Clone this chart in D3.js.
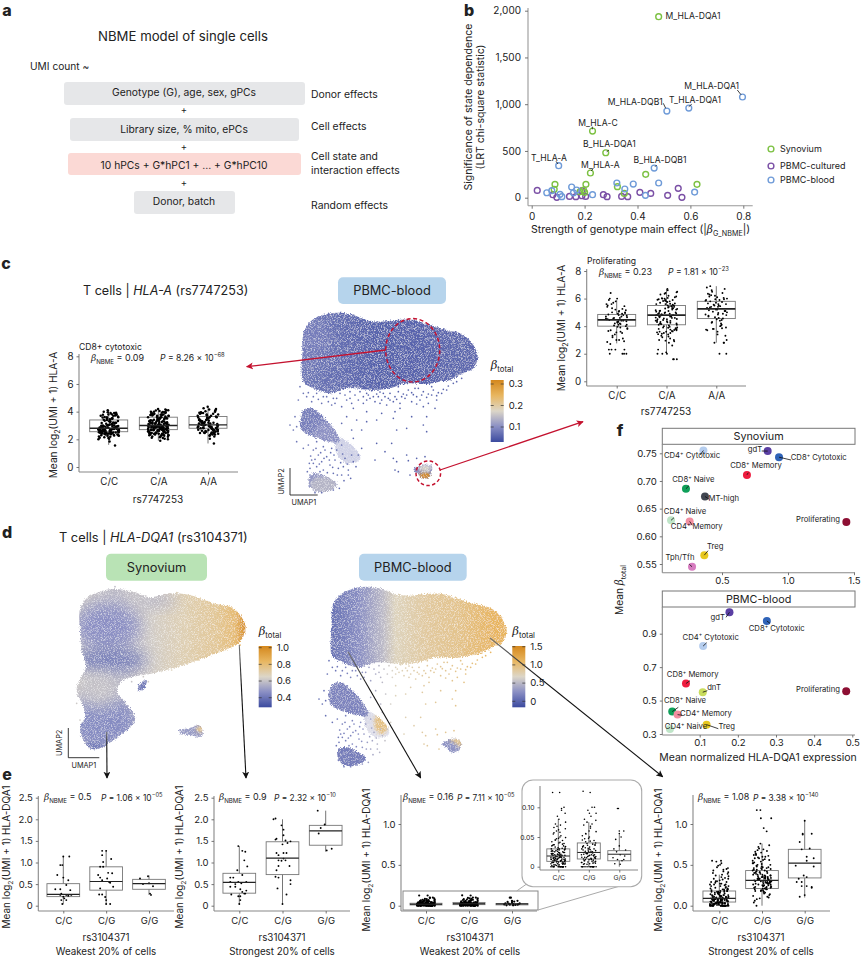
<!DOCTYPE html>
<html>
<head>
<meta charset="utf-8">
<script src="https://cdn.jsdelivr.net/npm/d3@7"></script>
<style>
  html, body { margin: 0; padding: 0; background: #fff; }
  svg { display: block; font-family: Inter, "Noto Sans", sans-serif; }
  text { fill: #222; }
</style>
</head>
<body>
<svg id="fig" width="861" height="960"></svg>
<script>
// ---- panel a text
const A_ROWS = ["Genotype (G), age, sex, gPCs", "Library size, % mito, ePCs", "10 hPCs + G*hPC1 + ... + G*hPC10", "Donor, batch"];
const A_EFFECTS = ["Donor effects", "Cell effects", "Cell state and", "interaction effects", "Random effects"];

// ---- panel b: [|beta|, LRT chi-square]
const B_SYN = [[.48,1936],[.23,713],[.28,481],[.222,264],[.431,250],[.625,143],[.088,143],[.085,90],[.205,143],[.196,82],[.183,64],[.2,57],[.324,118],[.35,46]];
const B_CULT = [[.021,78],[.08,32],[.095,4],[.143,14],[.167,11],[.19,21],[.204,14],[.19,75],[.271,32],[.285,11],[.34,14],[.363,11],[.409,57],[.45,46],[.514,25],[.554,100],[.568,4]];
const B_BLOOD = [[.797,1077],[.594,959],[.511,927],[.463,317],[.102,342],[.322,157],[.384,146],[.48,157],[.616,60],[.352,93],[.43,25],[.151,114],[.17,82],[.057,53],[.076,75],[.107,36],[.114,11],[.23,32],[.158,53]];
const B_SERIES = ["Synovium", "PBMC-cultured", "PBMC-blood"];
const B_XTICKS = [0, .2, .4, .6, .8];
const B_YTICKS = [0, 500, 1000, 1500, 2000];

// shared jitter offsets for the dense strips
const JIT = [-.82,.35,-.12,.91,-.55,.18,.67,-.93,.04,-.38,.76,-.24,.52,-.71,.29,.97,-.47,.11,-.86,.6,-.03,.43,-.63,.83,-.17,.22,-.98,.7,-.31,.08,.49,-.76,.88,-.42,.15,-.58,.94,-.09,.33,-.67,.56];

// ---- panel c, boxes are [q1, median, q3, low, high]
const C_CATS = ["C/C", "C/A", "A/A"];
const CL_BOXES = [[2.55,2.8,3.4,1.6,4.1],[2.7,3.0,3.6,1.9,4.2],[2.8,3.05,3.65,1.7,4.3]];
const CL_CC = [2.8,3.1,2.4,3.6,2.6,3.9,2.9,2.2,3.3,2.7,3.8,2.5,3.0,2.3,3.5,2.75,4.0,2.65,2.85,3.2,2.1,3.7,2.55,2.95,3.4,2.45,2.7,3.85,2.35,3.05,2.8,2.6,3.65,2.15,3.25,2.9,2.5,3.95,2.75,2.4,3.15,2.65,3.55,2.85,2.3,3.0,2.55,3.75,2.7,2.05,3.35,2.8,2.45,3.9,2.6,3.1,2.25,2.95,3.45,2.7,1.55,3.8,2.5,2.85,2.35,3.6,2.65,2.0,3.2,2.9,1.85,2.75,3.7,2.6,2.4,3.3,2.8,2.55,4.1,3.05,2.62,2.78,2.48,2.92,3.02,2.58,2.72,2.68,2.88,2.52,
  2.42,3.62,2.76,3.12,2.28,2.98,3.82,2.66,3.42,2.56,2.12,3.72,2.84,3.22,2.46,2.94,3.52,2.36,2.74,3.92,2.64,3.08,2.32,2.86,3.32,2.54,2.18,3.58,2.7,3.02,2.44,3.18,2.82,2.6,3.48,2.26,2.96,3.78,2.68,2.5];
const CL_CA = [3.0,2.4,3.7,2.8,3.2,2.2,3.9,2.6,3.4,2.9,4.1,2.5,3.1,2.7,3.6,2.3,3.8,2.85,3.3,2.05,4.2,2.65,2.95,3.5,2.45,3.05,2.75,3.95,2.35,3.25,2.55,3.75,2.9,4.0,2.15,3.15,2.6,3.45,2.8,3.85,2.25,3.35,2.7,3.65,2.5,3.0,1.9,4.15,2.85,3.1,2.4,3.55,2.95,2.6,3.2,2.3,3.7,2.75,4.05,3.05,2.55,3.4,2.1,3.9,2.65,3.3,2.8,3.6,2.45,3.15,2.9,3.8,2.35,3.0,2.7,3.5,2.2,4.1,2.6,3.25,2.85,3.45,2.5,3.75,2.95,2.0,3.35,2.75,3.65,3.1,2.4,3.85,2.8,3.2,2.55,4.0,2.9,3.05,2.65,3.55,2.3,3.95,2.7,3.3,2.45,3.1,2.85,3.6,2.98,2.72,3.12,2.62,2.88,3.22,
  2.52,3.42,2.78,3.72,2.32,3.02,3.92,2.68,3.28,2.48,2.92,3.58,2.18,3.82,2.82,3.18,2.58,3.48,2.38,2.96,4.08,2.74,3.38,2.28,3.68,2.86,3.08,2.42,3.52,2.66,3.98,2.12,3.24,2.94,3.78,2.56,3.14,2.84,3.44,2.36];
const CL_AA = [3.1,2.5,3.8,2.9,3.3,2.3,4.0,2.7,3.5,3.0,4.2,2.6,3.2,2.8,3.7,2.4,3.9,2.95,3.4,2.2,4.35,2.75,3.05,3.6,2.55,3.15,2.85,4.1,2.45,3.35,2.65,3.85,3.0,4.25,2.25,3.25,2.7,3.55,2.9,3.95,1.7,3.45,2.8,3.75,2.6,3.1,2.05,4.05,2.95,3.2,2.5,3.65,3.05,2.7,3.3,2.4,3.8,2.85,4.15,3.15,2.65,3.5,2.35,3.9,2.75,3.4,2.9,3.7,2.55,3.25,3.0,3.85,2.45,3.1,2.8,3.6,
  2.62,3.02,3.72,2.86,3.28,2.44,3.92,2.76,3.42,2.58,3.08,2.92,2.34,3.58,2.68,3.18,2.82,4.02,2.52,3.36];
const CR_BOXES = [[4.0,4.45,4.85,2.75,5.9],[4.1,4.8,5.5,2.05,6.7],[4.55,5.25,5.8,2.8,6.9]];
const CR_CC = [4.5,3.6,5.2,4.1,6.4,4.8,2.9,5.6,4.3,3.2,5.0,4.6,2.0,5.9,4.2,3.8,2.3,4.9,5.4,4.4,3.0,4.7,6.0,4.0,3.4,5.1,4.55,2.3,5.7,4.25,3.5,4.85,2.0,5.3,4.35,2.7,4.65,5.8,3.9,4.45,3.1,5.5,4.15,2.3,4.75,3.7,5.05,2.0,4.5,6.0,3.3,4.95,4.05,5.25,2.3,4.6,3.85,5.6,4.3,2.85,4.8,3.55,4.4,2.0,5.15,4.2,3.0,4.7,5.45,4.55,3.95,4.9,3.65,4.35,5.0,4.1];
const CR_CA = [4.8,3.5,5.9,4.2,6.3,5.1,3.0,5.6,4.5,2.0,6.1,4.0,5.3,3.8,4.9,6.5,3.3,5.5,4.3,1.6,5.8,4.7,3.6,5.0,6.0,2.8,4.4,5.4,3.9,6.7,4.6,2.3,5.2,4.85,3.4,5.7,4.1,6.4,3.1,4.95,5.55,2.0,4.25,5.85,3.7,4.75,6.2,1.6,5.05,4.35,3.2,5.65,4.55,2.6,5.95,3.95,5.25,4.15,6.05,3.55,4.8,2.1,5.45,4.65,3.85,6.35,4.05,5.15,2.9,4.45,5.75,3.65,4.9,6.15,3.45,5.35,4.2,1.6,5.6,4.7,3.0,5.9,4.5,3.75,5.0,6.45,4.3,3.25,5.5,4.8,2.0,6.0,4.6,3.5,5.2,4.1,5.8,3.9,4.85,6.6,4.4,5.3,3.6,4.75,5.1,3.8,4.95,5.4,
  4.62,3.72,5.82,4.28,5.42,3.42,4.92,6.02,3.88,5.12,4.52,2.95,5.62,4.72,3.62,5.92,4.38,5.28,3.78,4.18];
const CR_AA = [5.3,4.0,6.2,4.8,6.9,5.6,2.8,5.9,4.5,6.5,5.1,3.8,5.75,4.7,2.0,6.0,5.4,3.6,6.8,4.9,5.2,4.2,6.3,3.3,5.5,4.6,5.85,2.8,5.05,6.1,4.1,5.65,3.9,6.6,4.85,5.35,3.0,5.95,4.4,5.15,6.4,3.7,5.45,4.65,2.0,5.8,4.95,6.05,3.75,5.25,4.3,6.7,5.55,3.85,4.75,5.9,5.0,6.25,3.4,5.3,4.55,5.7,4.05,6.15,5.1,2.8,5.5,4.85,5.95,3.8,5.2,4.45,6.35,5.6,4.25,5.4];

// ---- panel d legend ticks
const LEG_C = [.1, .2, .3];
const LEG_SYN = [.4, .6, .8, 1.0];
const LEG_BLOOD = [0, .5, 1.0, 1.5];

// ---- UMAP outlines, in UMAP units
const BLOOD_BODY = [[.68,5],[.75,5.35],[1,5.62],[1.4,5.78],[1.8,5.82],[2.2,5.75],[2.6,5.6],[3,5.55],[3.5,5.6],[4,5.6],[4.5,5.45],[5,5.3],[5.5,5.15],[5.8,4.85],[5.93,4.5],[5.8,4.15],[5.5,4],[5.1,3.8],[4.8,3.75],[4.4,3.68],[3.8,3.7],[3.3,3.55],[2.8,3.5],[2.2,3.55],[2,3.55],[1.5,3.4],[1,3.55],[.7,3.75],[.65,4.2],[.68,4.6]];
const BLOOD_LOBE_A = [[.6,2.6],[.72,2.9],[.95,2.95],[1.3,2.7],[1.7,2.2],[1.75,1.95],[1.5,1.95],[1,2.1],[.65,2.3]];
const BLOOD_LOBE_B = [[.85,.8],[1,1],[1.4,.9],[1.7,.65],[1.4,.45],[1,.5]];
const BLOOD_LOBE_C = [[1.7,2.1],[2.3,1.7],[2.4,1.4],[2,1.3],[1.7,1.6]];
const BLOOD_SMALL = [[4,1.1],[4.25,1.25],[4.55,1.2],[4.5,.9],[4.3,.85],[4.1,1]];
const BLOOD_SPARSE = [[2.4,3.45],[2.6,3.4],[2.75,3.48],[2.9,3.38],[3,3.44],[3.15,3.3],[3.3,3.4],[3.45,3.3],[3.55,3.45],[3.7,3.38],[3.85,3.5],[4,3.36],[4.15,3.55],[4.3,3.45],[4.45,3.38],[4.6,3.5],[4.75,3.42],[4.9,3.52],[5.05,3.62],[5.2,3.7],
  [.6,3.6],[.7,3.4],[.55,3.2],[.8,3.3],[.95,3.15],[1.1,3.4],[1.25,3.1],[1.4,3.3],[1.55,3.05],[1.7,3.25],[1.85,3],[2,3.2],[2.1,3.45],[2.2,2.95],[2.35,3.2],[2.5,3.1],[2.7,3.25],[2.85,3.15],[3.05,3.2],[3.2,3.05],[3.4,3.15],[3.6,3.1],[3.75,3.25],[3.95,3.15],[4.2,3.2],[4.45,3.1],[4.7,3.2],
  [2.5,3.3],[2.65,3.35],[2.8,3.3],[2.95,3.3],[3.1,3.4],[3.25,3.25],[3.5,3.22],[3.65,3.3],[3.8,3.35],[3.95,3.42],[4.1,3.3],[4.25,3.35],[4.4,3.28],[4.55,3.35],[4.7,3.33],[4.85,3.4],[5,3.5],[2.25,3.35],[2.1,3.25],[1.95,3.35],[1.8,3.4],[1.6,3.25],[1.45,3.15],[1.3,3.3],[1.15,3.22],[1,3.3],[.85,3.42],[3.55,3.6],[4.05,3.55],[4.55,3.6],[5.3,3.75],[5.45,3.85],[2.6,3.2],[3,3.1],[3.3,3.2],[4.1,3.08],[2.15,3.1],[1.65,3.1],
  [3.45,2.85],[3.6,2.95],[3.95,2.7],[4.3,3.0],[4.4,2.7],[4.65,2.95],[4.3,2.45],[4.4,2.25],[3.4,2.65],[3.8,2.35],[3.5,2.3],[2.9,2.6],[3.05,2.8],[2.6,2.85],[2.3,2.6],[2,2.7],[1.85,2.5],[2.45,2.3],[2.15,2.3],[2.6,2.55],
  [.45,2.7],[.5,2.4],[.5,1.95],[.85,1.85],[.7,1.75],[1.1,1.95],[1.3,1.8],[1.55,1.75],[1.85,1.85],[2.2,2.05],[.4,2.3],[.3,2.45],
  [1,1.7],[1.15,1.55],[.95,1.4],[1.25,1.35],[1.4,1.5],[1.1,1.2],[.9,1.15],[1.3,1.1],[1.5,1.25],[1.65,1.4],[1.75,1.15],[1.6,1],[1.9,1.2],[2.05,1.1],[2.2,1.35],[2.35,1.55],[1.85,.95],[.82,1.05],[.9,.95],[1,1.3],[1.2,1.05],[1.35,1.7],[1.7,1.7],[2.15,1.55],[2.05,.95],[1.6,.5],
  [.88,1.3],[.92,1.52],[1.05,1.42],[1.18,1.28],[1.32,1.45],[1.48,1.4],[1.58,1.18],[1.42,1.02],[1.72,.95],[1.82,1.32],[1.95,1.45],[2.02,1.28],[1.88,1.58],[1.62,1.55],[1.52,1.62],[1.22,1.62],[1.08,1.75],[2.28,1.2],[2.12,.85],[1.92,.78],[1.78,.55],[1.25,.42],[1.05,.42],[.88,.62],
  [2.85,1.4],[3.4,1.45],[3.5,1.35],[3.8,1.55],[3.85,1.38],[4.1,1.45],[2.45,1.75],[3.45,1.1],[3.55,1.05],[3.9,.95],[4.35,1.5],[3.15,1.65],[2.9,1.9],[3.35,1.9]];
const SYN_BODY = [[2.4,5],[2.6,5.35],[3,5.55],[3.4,5.63],[4,5.55],[4.5,5.38],[5.1,5.5],[5.7,5.45],[6.4,5.2],[7,5.05],[7.3,4.7],[7.37,4.45],[7.2,4.05],[6.5,3.7],[5.8,3.45],[5.2,3.25],[4.6,3.1],[4,3],[3.7,2.9],[3.5,2.6],[3.7,2.3],[4,1.9],[4.05,1.7],[3.8,1.4],[3.4,1.1],[3,.85],[2.7,.85],[2.5,1.1],[2.4,1.45],[2.55,1.8],[2.5,2.1],[2.3,2.6],[2.5,3.1],[2.58,3.3],[2.45,3.8],[2.4,4.4]];
const SYN_SMALL = [[5.35,1.4],[5.7,1.45],[5.95,1.55],[6.07,1.4],[6.05,1.2],[5.7,1.25],[5.45,1.28]];
const SYN_BUD = [[4.15,2.75],[4.4,2.9],[4.3,2.6],[4.15,2.6]];
const SYN_SPARSE = [[4.3,3],[4.45,2.85],[3.95,2.85],[5.15,3.2],[2.3,2.2],[2.4,1.7],[6.9,3.9],[7.2,3.95],[3.45,5.7],[5.3,5.52]];

// beta along UMAP1 for each map
const C_STOPS_U = [.65, 3, 5.9];
const C_STOPS_BETA = [.078, .055, .062];
const DB_STOPS_U = [.65, 1.5, 2.2, 2.6, 3.5, 4.5, 5.6];
const DB_STOPS_BETA = [.08, .25, .5, .72, .84, .92, 1.1];
const DS_STOPS_U = [2.4, 3.5, 4.5, 5.5, 6.5, 7.05, 7.4];
const DS_STOPS_BETA = [.62, .58, .63, .69, .74, .8, 1.0];
const DS_PATCHES = [[3.2,4.5,1,.7,.47],[3.3,3.5,1.1,.35,.42],[3.1,1.6,1.1,.9,.46],[3,2.6,.6,.5,.6],[4.7,5.3,.6,.2,.56],[2.8,.9,.3,.15,.42]];
const DB_PATCHES = [[2.18,1.75,.22,.35,.95],[1.2,.7,.6,.4,.15],[1.1,2.4,.6,.5,.18],[4.4,1.15,.2,.15,.9],[4.2,1,.25,.2,.28]];
const C_PATCHES = [[4.35,.93,.18,.1,.31],[4.35,1.15,.2,.1,.17],[1.4,2.2,.4,.35,.105],[1.3,.65,.4,.25,.14],[.8,5,.7,.7,.085]];

// ---- panel e
const E_CATS = ["C/C", "C/G", "G/G"];
const E1_BOXES = [[.21,.26,.51,.03,1.15],[.36,.56,.9,.03,1.27],[.38,.51,.61,.25,.7]];
const E1_CC = [[0,1.14],[6,1.14],[-3,.94],[-1,.94],[-6,.71],[0,.65],[5,.59],[-8,.38],[-3,.38],[3,.48],[7,.36],[-2,.28],[3,.25],[5,.23],[8,.25],[-3,.25],[0,.21],[-2,.13],[3,.13],[-1,.04],[1,.17]];
const E1_CG = [[-4,1.27],[0,1.27],[-4,1.17],[5,1.08],[-3,1.01],[-8,.71],[-6,.65],[2,.76],[6,.75],[-4,.59],[1,.63],[-6,.4],[4,.53],[7,.44],[-1,.2],[-7,.26],[-4,.26],[0,.13],[0,.04],[4,.04],[-6,.9],[-3,.9],[3,.55]];
const E1_GG = [[-9,.63],[-1,.68],[4,.45],[0,.52],[1,.28],[2,.25],[-6,.5]];
const E2_BOXES = [[.29,.54,.75,.03,1.38],[.72,1.1,1.48,.04,2.0],[1.4,1.73,1.86,1.25,2.2]];
const E2_CC = [[-1,1.38],[3,1.27],[6,1.25],[5,1.05],[8,.91],[-2,.82],[-6,.65],[3,.71],[-9,.65],[-9,.55],[-4,.5],[-1,.55],[-9,.44],[-4,.44],[2,.52],[7,.55],[1,.38],[7,.35],[5,.28],[-8,.26],[-1,.22],[1,.22],[6,.28],[1,.13],[0,.04],[3,.32]];
const E2_CG = [[-9,2],[-7,2.02],[-1,1.86],[1,1.76],[1,1.63],[-6,1.55],[-7,1.53],[3,1.51],[8,1.49],[5,1.45],[0,1.42],[-6,1.22],[1,1.22],[4,1.22],[-4,1.17],[1,1.09],[-4,1.05],[-1,1.04],[3,1.05],[7,.92],[-4,.92],[-6,.82],[-7,.67],[-4,.65],[8,.59],[8,.5],[-5,.4],[4,.26],[0,.04]];
const E2_GG = [[-8,2.2],[-1,1.88],[-5,1.8],[-7,1.67],[1,1.28],[6,1.32]];
const E3_BOXES = [[.009,.018,.03,0,.08],[.013,.024,.04,0,.075],[.01,.021,.027,0,.055]];
const E3_CC = [0,.018,.005,.03,.012,.125,0,.022,.008,.045,.015,.06,0,.026,.01,.075,.02,.003,.035,0,.014,.095,.007,.028,.017,.05,0,.024,.011,.04,.019,.125,.004,.033,0,.066,.013,.021,.009,.055,0,.027,.016,.085,.006,.037,.023,0,.012,.048,.018,.1,.002,.031,.01,.07,0,.025,.015,.042,.008,.02,.098,0,.029,.013,.058,.005,.035,.017,.08,0,.022,.011,.045,.019,.003,.064,.026,0,.014,.038,.007,.052,.021,.09,.01,.016,0,.03,.024,.072,.012,.047,.006,.019,0,.034,.015,.028,
  .02,.004,.032,.011,0,.024,.009,.041,.016,.006,.027,0,.013,.036,.019,.003,.023,.057,.01,.029,0,.015,.044,.007,.021,.012,.033,0,.018,.005,.026,.062,.014,.039,.008,0,.022,.017,.049,.011,.03,.002,.025,0,.016,.037,.009,.068,.02,.013];
const E3_CG = [0,.024,.008,.04,.016,.125,0,.03,.012,.055,.02,.075,0,.035,.014,.09,.026,.005,.045,0,.018,.1,.01,.037,.022,.065,0,.03,.015,.05,.025,.127,.006,.042,0,.08,.017,.028,.012,.07,0,.033,.02,.095,.009,.047,.029,0,.016,.06,.023,.1,.004,.038,.013,.085,0,.032,.019,.052,.011,.026,.072,0,.036,.017,.068,.007,.044,.022,.09,0,.028,.014,.056,.024,.005,.078,.031,0,
  .021,.006,.034,.013,0,.027,.01,.043,.018,.007,.03,0,.015,.039,.023,.004,.026,.059,.012,.033,0,.019,.048,.009,.024,.016,.036,0,.02,.008];
const E3_GG = [[-2,.098],[-1,.098],[0,.06],[5,.06],[0,.056],[-4,.046],[2,.05],[7,.028],[-6,.03],[-3,.025],[1,.02],[6,.018],[-7,.015],[-2,.012],[3,.01],[-5,.005],[1,.004],[5,.012],[0,.035]];
const E4_BOXES = [[.045,.09,.18,0,.38],[.21,.31,.43,0,.76],[.34,.52,.69,.1,1.05]];
const E4_CC = [0,.1,.03,.2,.06,.55,0,.14,.04,.3,.08,.47,0,.12,.02,.36,.16,.05,.24,0,.09,.42,.01,.18,.07,.52,0,.11,.03,.27,.13,.55,.06,.22,0,.33,.1,.15,.04,.4,0,.17,.08,.49,.02,.26,.12,0,.05,.31,.09,.45,.01,.19,.07,.38,0,.14,.11,.29,.03,.16,.44,0,.2,.06,.35,.02,.23,.1,.5,0,.13,.05,.28,.08,.01,.41,.17,0,.07,.25,.04,.32,.15,.46,.02,.11,0,.21,.09,.37,.06,.3,.03,.12,0,.24,.08,.18,.05,.34,.01,.13,.43,0,.16,.07,.26,.1,.54,.04,.2,.02,.39,.09,
  .06,.02,.13,.04,0,.1,.07,.19,.03,.15,.05,.09,0,.22,.01,.12,.08,.29,.04,.17,0,.06,.11,.02,.24,.09,.03,.14,0,.07,.18,.05,.27,.01,.1,.04,.16,0,.08,.21,.03,.12,.06,.33,.02,.09,0,.15,.05,.2,.07,.01,.11,.04,.26,0,.13,.03,.08,.17];
const E4_CG = [.31,.6,.18,.45,.08,.95,.25,.52,.35,.72,.13,.41,.28,.66,.21,1.07,.38,.56,.04,.33,.48,.22,.62,.3,.76,.15,.43,.27,.58,.36,.91,.2,.5,.32,.69,0,.24,.46,.34,.64,.11,.4,.29,.54,.37,1.17,.17,.47,.26,.6,.33,.74,.09,.42,.23,.57,.3,.68,.19,.44,.35,.51,.28,.63,.14,.39,.25,.55,.32,.7,.21,.46,.06,.37,.59,.27,.49,.34,.65,.16,.41,.29,.53,.36,1.07,.22,.48,.31,.61,.12,.38,.26,.56,.33,.67,.18,.43,.3,.5,.24,.62,.35,.45,.2,.39,.28,1.17,.34,.52,.1,.32,.47,.23,.58,
  .29,.36,.24,.42,.31,.19,.33,.27,.4,.22,.35,.3,.26,.44,.17,.32,.38,.25,.34,.28,.41,.2,.3,.37,.23,.33,.29,.46,.27,.35];
const E4_GG = [[0,1.04],[-2,.87],[-2,.88],[7,.88],[-5,.78],[5,.7],[-3,.69],[2,.6],[9,.58],[2,.55],[-9,.49],[9,.48],[-1,.37],[2,.35],[-3,.29],[-8,.29],[7,.23],[-3,.24],[2,.24],[7,.22],[-5,.11],[0,.13],[-6,.33]];

// ---- panel f
const F_COLORS = {"CD4+ Cytotoxic":"#b5cdee", "gdT":"#5a3fa3", "CD8+ Cytotoxic":"#2f63b8", "CD8+ Memory":"#ee1c3f", "CD8+ Naive":"#0e9f59", "MT-high":"#404650", "CD4+ Naive":"#bfe5c8", "CD4+ Memory":"#f28ea0", "Proliferating":"#8d0f33", "Treg":"#e7c71f", "Tph/Tfh":"#d77cc0", "dnT":"#c9dc5e"};
const F_SYN_NAMES = ["CD4+ Cytotoxic","gdT","CD8+ Cytotoxic","CD8+ Memory","CD8+ Naive","MT-high","CD4+ Naive","CD4+ Memory","Proliferating","Treg","Tph/Tfh"];
const F_SYN_X = [.359,.846,.932,.689,.227,.371,.114,.255,1.442,.366,.273];
const F_SYN_Y = [.755,.754,.743,.711,.686,.672,.629,.627,.626,.566,.545];
const F_BLOOD_NAMES = ["gdT","CD8+ Cytotoxic","CD4+ Cytotoxic","CD8+ Memory","dnT","Proliferating","CD8+ Naive","CD4+ Memory","Treg","CD4+ Naive"];
const F_BLOOD_X = [.178,.276,.109,.064,.108,.484,.028,.042,.118,.022];
const F_BLOOD_Y = [1.028,.976,.826,.602,.55,.556,.434,.416,.356,.33];

// ---- layout, label placement in page pixels
const B_LABELS = [
  ["M_HLA-DQA1",693,15.7,null],
  ["M_HLA-DQA1",711.7,85.7,[737.3,90,741,94.7]],
  ["T_HLA-DQA1",695,100,[691.7,104.3,688.7,106.7]],
  ["M_HLA-DQB1",635.3,102.3,[663.3,103.3,665.7,108.3]],
  ["M_HLA-C",598,123,[592.3,126.7,592.3,129.3]],
  ["B_HLA-DQA1",609.3,144.3,[609,150,606.7,151.7]],
  ["T_HLA-A",549,158,[556,161.3,558,164]],
  ["M_HLA-A",600.3,165,[593.3,168.3,591.3,171]],
  ["B_HLA-DQB1",660,159.7,[656.7,165,655,166.7]]
];
const F_SYN_LABELS = [[692,458.3,700,455],[755,451.7,761.7,451],[818.7,460.3,791,460],[756,468.3,748.3,472.7],[693.3,482.3,689,485.7],[723.7,500.7,709.3,499.3],[685,514,674,517.7],[696.7,529,692.3,525.3],[818,522.3,null,null],[715.3,549,708,550.7],[680,560,689.3,564.3]];
const F_BLOOD_LABELS = [[717.7,620.3,726,617.3],[776.7,631,770,623.3],[710.7,639.7,706.7,642.7],[692.7,677,690,680.7],[714,690,707.3,690.7],[818,692,null,null],[685,703,678.3,707.3],[706,716,682,715.3],[726.7,729.3,718.3,728.7],[686,729.3,null,null]];

const svg = d3.select("#fig");
const defs = svg.append("defs");

function txt(g, x, y, s, size, anchor, extra) {
    const t = g.append("text").attr("x",x).attr("y",y).attr("dy","0.35em")
        .attr("font-size",size).attr("text-anchor",anchor||"start").text(s);
    if (extra) Object.keys(extra).forEach(k => t.attr(k,extra[k]));
    return t;
}

// parts = strings or {t, it, sub, sup, serif}
function rich(g, x, y, parts, size, anchor, rot) {
    const holder = g.append("g").attr("transform",`translate(${x},${y})` + (rot ? ` rotate(${rot})` : ""));
    const t = holder.append("text").attr("dy","0.35em").attr("font-size",size).attr("text-anchor",anchor||"start");
    let prev = 0;
    parts.forEach(p0 => {
        const p = typeof p0 === "string" ? {t:p0} : p0;
        const shift = p.sub ? .3*size : p.sup ? -.42*size : 0;
        const sp = t.append("tspan").attr("dy",shift-prev).attr("font-size",(p.sub||p.sup) ? size*.68 : size).text(p.t);
        sp.attr("xml:space","preserve").style("white-space","pre");
        if (p.it) sp.attr("font-style","italic");
        if (p.serif) sp.attr("font-family","'DejaVu Serif', 'Liberation Serif', serif");
        prev = shift;
    });
    return t;
}

function arrowMarker(id, color) {
    defs.append("marker").attr("id",id).attr("viewBox","0 0 10 10").attr("refX",9).attr("refY",5)
        .attr("markerWidth",7).attr("markerHeight",7).attr("markerUnits","userSpaceOnUse").attr("orient","auto")
        .append("path").attr("d","M0,0L10,5L0,10L2.5,5Z").attr("fill",color);
}
arrowMarker("arrRed","#c4122f");
arrowMarker("arrBlack","#111");

// grainy cell-cloud look for the UMAPs
const grain = defs.append("filter").attr("id","grain").attr("x","-5%").attr("y","-5%").attr("width","110%").attr("height","110%");
grain.append("feTurbulence").attr("type","fractalNoise").attr("baseFrequency","1.3").attr("numOctaves","1").attr("seed","4").attr("result","n");
grain.append("feDisplacementMap").attr("in","SourceGraphic").attr("in2","n").attr("scale","5").attr("xChannelSelector","R").attr("yChannelSelector","G").attr("result","d");
grain.append("feColorMatrix").attr("in","n").attr("type","matrix").attr("values","0 0 0 0 1  0 0 0 0 1  0 0 0 0 1  0 0 0 1.8 -.85").attr("result","w");
grain.append("feComposite").attr("in","w").attr("in2","d").attr("operator","in").attr("result","w2");
const gm = grain.append("feMerge");
gm.append("feMergeNode").attr("in","d");
gm.append("feMergeNode").attr("in","w2");
defs.append("filter").attr("id","soft").attr("x","-60%").attr("y","-60%").attr("width","220%").attr("height","220%")
    .append("feGaussianBlur").attr("stdDeviation","8");
defs.append("filter").attr("id","softS").attr("x","-50%").attr("y","-50%").attr("width","200%").attr("height","200%")
    .append("feGaussianBlur").attr("stdDeviation","1.5");

const PALETTE = ["#3b4a9f","#8a8fc4","#dcd6c8","#e8b660","#d4871c"];
function paletteScale(lo, hi) {
    return d3.scaleLinear().domain(d3.range(5).map(i => lo + (hi-lo)*i/4)).range(PALETTE);
}

// ================ a ================
const gA = svg.append("g");
[["a",7,10],["b",469,10],["c",6,263],["d",7,532],["e",7,774],["f",620,430.7]].forEach(d =>
    txt(gA,d[1],d[2],d[0],16,"middle",{"font-weight":800,"fill":"#000"}));
txt(gA,183,36,"NBME model of single cells",13.2,"middle");
txt(gA,30,66,"UMI count ~",10.2);
[[64,82,241,23,"#e6e7e9",92],[70,118,229,23,"#e6e7e9",129],[68,153,233,22,"#fbd9d5",165],[134,191,101,23,"#e6e7e9",201]].forEach((r,i) => {
    gA.append("rect").attr("x",r[0]).attr("y",r[1]).attr("width",r[2]).attr("height",r[3]).attr("rx",3).attr("fill",r[4]);
    txt(gA,184,r[5],A_ROWS[i],10.3,"middle");
});
[110,147,183].forEach(y => txt(gA,184,y,"+",9.5,"middle"));
[94.5,126,156.5,170,205].forEach((y,i) => txt(gA,311,y,A_EFFECTS[i],10.4));

// ================ b ================
const gB = svg.append("g");
const bx = d3.scaleLinear().domain([0,.8]).range([531.7,743.3]);
const by = d3.scaleLinear().domain([0,2000]).range([197.7,10.7]);
const bColor = d3.scaleOrdinal().domain(B_SERIES).range(["#7cc142","#7a4fa5","#6f9bd8"]);
function styleAxis(ax, size) {
    ax.select(".domain").remove();
    ax.selectAll(".tick line").attr("stroke","#666").attr("stroke-width",.9);
    ax.selectAll(".tick text").attr("font-size",size).attr("font-family","Inter, 'Noto Sans', sans-serif").attr("fill","#222");
}
function axisLine(g, x1, y1, x2, y2, color) {
    g.append("line").attr("x1",x1).attr("y1",y1).attr("x2",x2).attr("y2",y2).attr("stroke",color||"#999").attr("stroke-width",1.1);
}
axisLine(gB,528,8,528,205.7);
axisLine(gB,528,205.7,752.7,205.7);
styleAxis(gB.append("g").attr("transform","translate(528,0)").call(d3.axisLeft(by).tickValues(B_YTICKS).tickSize(3).tickPadding(4).tickFormat(d3.format(","))),10);
styleAxis(gB.append("g").attr("transform","translate(0,205.7)").call(d3.axisBottom(bx).tickValues(B_XTICKS).tickSize(3).tickPadding(4).tickFormat(d => d===0 ? "0" : d3.format(".1f")(d))),10);
[[B_CULT,"PBMC-cultured"],[B_SYN,"Synovium"],[B_BLOOD,"PBMC-blood"]].forEach(s => {
    gB.selectAll(null).data(s[0]).enter().append("circle")
        .attr("cx",d => bx(d[0])).attr("cy",d => by(d[1])).attr("r",2.9)
        .attr("fill","none").attr("stroke",bColor(s[1])).attr("stroke-width",1.4);
});
B_LABELS.forEach(l => {
    txt(gB,l[1],l[2],l[0],8.6,"middle",{"letter-spacing":".05"});
    if (l[3]) gB.append("line").attr("x1",l[3][0]).attr("y1",l[3][1]).attr("x2",l[3][2]).attr("y2",l[3][3]).attr("stroke","#111").attr("stroke-width",.8);
});
rich(gB,472,107,["Significance of state dependence"],10.5,"middle",-90);
rich(gB,484,107,["(LRT chi-square statistic)"],10.5,"middle",-90);
rich(gB,640.5,233,["Strength of genotype main effect (|",{t:"β",it:1,serif:1},{t:"G_NBME",sub:1},"|)"],10.6,"middle");
B_SERIES.forEach((s,i) => {
    const y = [149,166,180][i];
    gB.append("circle").attr("cx",771).attr("cy",y).attr("r",2.9).attr("fill","none").attr("stroke",bColor(s)).attr("stroke-width",1.4);
    txt(gB,780,y,s,9);
});

// ================ box plots ================
function beta(sub) { return [{t:"β",it:1,serif:1},{t:sub,sub:1}]; }
function pval(mant, exp) { return [{t:"P",it:1}," = "+mant+" × 10",{t:exp,sup:1}]; }
const BETA_NBME = "NBME";

function boxPlot(p) {
    const g = svg.append("g");
    const x = d3.scalePoint().domain(p.cats).range(p.catX);
    const y = d3.scaleLinear().domain(p.ydom).range(p.yrange);
    axisLine(g,p.x0,p.top,p.x0,p.bottom,"#888");
    axisLine(g,p.x0,p.bottom,p.xEnd,p.bottom,"#888");
    styleAxis(g.append("g").attr("transform",`translate(${p.x0},0)`).call(d3.axisLeft(y).tickValues(p.yticks).tickSize(2.5).tickPadding(3).tickFormat(p.fmt)),p.tickSize);
    styleAxis(g.append("g").attr("transform",`translate(0,${p.bottom})`).call(d3.axisBottom(x).tickSize(p.hideXTick ? 0 : 2.5).tickPadding(p.xPad || 4)),p.catSize || p.tickSize);
    p.cats.forEach((c,i) => {
        const b = p.boxes[i], cx = x(c), w = p.boxW;
        g.append("line").attr("x1",cx).attr("x2",cx).attr("y1",y(b[3])).attr("y2",y(b[4])).attr("stroke","#666").attr("stroke-width",.9);
        g.append("rect").attr("x",cx-w/2).attr("width",w).attr("y",y(b[2])).attr("height",y(b[0])-y(b[2]))
            .attr("fill",p.boxFill||"#fff").attr("stroke","#777").attr("stroke-width",.9);
        const pts = p.points[i].map((v,k) => Array.isArray(v) ? {dx:v[0]*(p.pairScale||1), y:v[1]} : {dx:JIT[k%JIT.length]*p.jit, y:v});
        g.selectAll(null).data(pts).enter().append("circle")
            .attr("cx",d => cx+d.dx).attr("cy",d => y(d.y)).attr("r",p.r).attr("fill","#000");
        g.append("line").attr("x1",cx-w/2).attr("x2",cx+w/2).attr("y1",y(b[1])).attr("y2",y(b[1])).attr("stroke","#222").attr("stroke-width",p.medW||1.3);
    });
    return g;
}
const log2Label = gene => ["Mean log",{t:"2",sub:1},"(UMI + 1) "+gene];

// c left
const gCL = boxPlot({cats:C_CATS,catX:[108.7,208],ydom:[0,8],yrange:[467,356.3],x0:79,xEnd:238,top:354,bottom:472,yticks:[0,2,4,6,8],fmt:d3.format("d"),tickSize:9.8,
    boxes:CL_BOXES,points:[CL_CC,CL_CA,CL_AA],boxW:38,jit:10.5,r:1.25});
txt(gCL,79,346.5,"CD8+ cytotoxic",8.6);
rich(gCL,91,361,[...beta(BETA_NBME)," = 0.09"],9);
rich(gCL,160,361,pval("8.26","−68"),8.6);
rich(gCL,57,415,log2Label("HLA-A"),10.2,"middle",-90);
txt(gCL,158,499,"rs7747253",10,"middle");
txt(gCL,83,290.7,"T cells | ",12.6,"start").call(t => {
    t.append("tspan").attr("font-style","italic").text("HLA-A");
    t.append("tspan").text(" (rs7747253)");
});

// c right
const gCR = boxPlot({cats:C_CATS,catX:[616.7,716.3],ydom:[0,8],yrange:[381.3,271],x0:586.7,xEnd:746,top:269,bottom:386,yticks:[0,2,4,6,8],fmt:d3.format("d"),tickSize:9.8,
    boxes:CR_BOXES,points:[CR_CC,CR_CA,CR_AA],boxW:38,jit:11,r:.95,medW:1.8});
txt(gCR,587,261,"Proliferating",8.6);
rich(gCR,599,275,[...beta(BETA_NBME)," = 0.23"],9);
rich(gCR,668,275,pval("1.81","−23"),8.6);
rich(gCR,565,328,log2Label("HLA-A"),10.2,"middle",-90);
txt(gCR,666,411,"rs7747253",10,"middle");

// e
const EY_TICKS = [0,.5,1,1.5,2,2.5];
const eFmt = d => d===0 ? "0" : d3.format(".1f")(d);
function eTitles(g, x0, cx, cy, betaX, pX, val, mant, exp, yl, cap) {
    rich(g,betaX,800,[...beta(BETA_NBME)," = "+val],9);
    rich(g,pX,800.5,pval(mant,exp),8.4);
    rich(g,yl,cy,log2Label("HLA-DQA1"),10,"middle",-90);
    txt(g,cx,937.7,"rs3104371",9.8,"middle");
    txt(g,cx,952,cap,9.8,"middle");
}
const gE1 = boxPlot({cats:E_CATS,catX:[63.3,149],ydom:[0,2.5],yrange:[905.7,797.7],x0:38.3,xEnd:174,top:796,bottom:911,yticks:EY_TICKS,fmt:eFmt,tickSize:9.5,
    boxes:E1_BOXES,points:[E1_CC,E1_CG,E1_GG],boxW:32.7,r:.95,medW:1.2});
eTitles(gE1,38,106,857,44,101,"0.5","1.06","−05",10,"Weakest 20% of cells");
const gE2 = boxPlot({cats:E_CATS,catX:[239.3,325.7],ydom:[0,2.5],yrange:[905.7,797.7],x0:214,xEnd:350,top:796,bottom:911,yticks:EY_TICKS,fmt:eFmt,tickSize:9.5,
    boxes:E2_BOXES,points:[E2_CC,E2_CG,E2_GG],boxW:32.7,r:.95,medW:1.2});
eTitles(gE2,214,282,857,219,274,"0.9","2.32","−10",183,"Strongest 20% of cells");
const gE3 = boxPlot({cats:E_CATS,catX:[426,512],ydom:[0,1],yrange:[905.7,824],x0:401,xEnd:537,top:795,bottom:911,yticks:[0,.5,1],fmt:eFmt,tickSize:9.5,
    boxes:E3_BOXES,points:[E3_CC,E3_CG,E3_GG],boxW:32,jit:9,pairScale:1.1,r:1.1,medW:1.2});
eTitles(gE3,401,470,860,403,457,"0.16","7.11","−05",370,"Weakest 20% of cells");
gE3.append("rect").attr("x",403).attr("y",891).attr("width",135).attr("height",19).attr("fill","none").attr("stroke","#888").attr("stroke-width",1);
const gE4 = boxPlot({cats:E_CATS,catX:[719.3,804.7],ydom:[0,1],yrange:[905.7,824],x0:693,xEnd:830,top:795,bottom:911,yticks:[0,.5,1],fmt:d3.format(".1f"),tickSize:9.5,
    boxes:E4_BOXES,points:[E4_CC,E4_CG,E4_GG],boxW:32.7,jit:9.5,r:.95,medW:1.2});
eTitles(gE4,693,761,860,698,753,"1.08","3.38","−140",662,"Strongest 20% of cells");

// inset on third e plot
const gIns = svg.append("g");
gIns.append("path").attr("d","M516.7,891L528,883M538,910L620,886").attr("stroke","#aaa").attr("stroke-width",1).attr("fill","none");
gIns.append("rect").attr("x",522).attr("y",780).attr("width",119.7).attr("height",106.7).attr("rx",11).attr("fill","#fff").attr("stroke","#aaa").attr("stroke-width",1.1);
const gI2 = boxPlot({cats:E_CATS,catX:[558.3,619.3],ydom:[0,.1],yrange:[866.7,807.3],x0:540,xEnd:638,top:786,bottom:870,yticks:[0,.05,.1],fmt:d => d===0 ? "0" : d3.format(".2f")(d),tickSize:6.8,
    boxes:E3_BOXES,points:[E3_CC,E3_CG,E3_GG],boxW:23,jit:7.5,pairScale:.9,r:.8,medW:1,xPad:3,catSize:6.8});

// ================ UMAPs ================
function umap(cfg) {
    const g = svg.append("g");
    const x = d3.scaleLinear().domain([0,6]).range([cfg.ox,cfg.ox+200]);
    const y = d3.scaleLinear().domain([0,8]).range([cfg.oy+266.67,cfg.oy]);
    const shape = d3.line().x(d => x(d[0])).y(d => y(d[1])).curve(d3.curveCatmullRomClosed.alpha(.5));
    const color = paletteScale(cfg.lo,cfg.hi);
    const along = d3.scaleLinear().domain(cfg.stopsU).range(cfg.stopsB).clamp(true);

    const gradId = cfg.id+"Grad", clipId = cfg.id+"Clip";
    const grad = defs.append("linearGradient").attr("id",gradId).attr("gradientUnits","userSpaceOnUse")
        .attr("x1",x(cfg.stopsU[0])).attr("x2",x(cfg.stopsU[cfg.stopsU.length-1])).attr("y1",0).attr("y2",0);
    const span = cfg.stopsU[cfg.stopsU.length-1]-cfg.stopsU[0];
    cfg.stopsU.forEach((u,i) => grad.append("stop").attr("offset",(u-cfg.stopsU[0])/span).attr("stop-color",color(cfg.stopsB[i])));

    const clip = defs.append("clipPath").attr("id",clipId);
    cfg.polys.forEach(pl => clip.append("path").attr("d",shape(pl[0])));

    const cloud = g.append("g").attr("filter","url(#grain)");
    cfg.polys.forEach(pl => cloud.append("path").attr("d",shape(pl[0])).attr("fill",pl[1]===null ? `url(#${gradId})` : color(pl[1])).attr("fill-opacity",pl[2]||1));
    const pg = cloud.append("g").attr("clip-path",`url(#${clipId})`);
    cfg.patches.forEach(d => {
        pg.append("ellipse").attr("cx",x(d[0])).attr("cy",y(d[1])).attr("rx",x(d[2])-x(0)).attr("ry",y(0)-y(d[3]))
            .attr("fill",color(d[4])).attr("filter",(d[2] < .5 ? "url(#softS)" : "url(#soft)"));
    });
    g.selectAll(null).data(cfg.sparse).enter().append("circle")
        .attr("cx",d => x(d[0])).attr("cy",d => y(d[1])).attr("r",.85)
        .attr("fill",d => color(along(d[0])));

    // colour bar
    const lg = svg.append("g");
    const bar = d3.scaleLinear().domain(cfg.legDom).range(cfg.legPx);
    const gId = cfg.id+"Bar";
    const gr = defs.append("linearGradient").attr("id",gId).attr("x1",0).attr("x2",0).attr("y1",1).attr("y2",0);
    PALETTE.forEach((c,i) => gr.append("stop").attr("offset",i/4).attr("stop-color",c));
    lg.append("rect").attr("x",cfg.barX).attr("y",cfg.barTop).attr("width",13).attr("height",cfg.barH).attr("fill",`url(#${gId})`);
    cfg.legTicks.forEach(v => {
        const py = bar(v);
        lg.append("line").attr("x1",cfg.barX).attr("x2",cfg.barX+3).attr("y1",py).attr("y2",py).attr("stroke","#333").attr("stroke-width",.7);
        lg.append("line").attr("x1",cfg.barX+10).attr("x2",cfg.barX+13).attr("y1",py).attr("y2",py).attr("stroke","#333").attr("stroke-width",.7);
        txt(lg,cfg.barX+18,py,cfg.legFmt(v),9.6);
    });
    rich(lg,cfg.barX,cfg.barTop-11,beta("total"),11.5);

    // UMAP1/UMAP2 corner
    if (cfg.corner) {
        const c = cfg.corner;
        g.append("path").attr("d",`M${c[0]},${c[1]}V${c[2]}H${c[3]}`).attr("fill","none").attr("stroke","#222").attr("stroke-width",.9);
        txt(g,(c[0]+c[3])/2,c[2]+7.5,"UMAP1",7.3,"middle");
        rich(g,c[0]-6.5,(c[1]+c[2])/2,["UMAP2"],7.3,"middle",-90);
    }
}
function pill(x, y, w, h, color, label, size) {
    svg.append("rect").attr("x",x).attr("y",y).attr("width",w).attr("height",h).attr("rx",5).attr("fill",color);
    txt(svg,x+w/2,y+h/2,label,size,"middle");
}

// c: blood, HLA-A
const BLOOD_POLYS = [[BLOOD_BODY,null],[BLOOD_LOBE_A,.085],[BLOOD_LOBE_B,.11],[BLOOD_LOBE_C,.085,.35],[BLOOD_SMALL,.1]];
umap({id:"umC",ox:280,oy:240,lo:.03,hi:.32,stopsU:C_STOPS_U,stopsB:C_STOPS_BETA,polys:BLOOD_POLYS,patches:C_PATCHES,sparse:BLOOD_SPARSE,
    barX:490.7,barTop:380,barH:62,legDom:[.1,.3],legPx:[427,384],legTicks:LEG_C,legFmt:d3.format(".1f"),corner:[290,468,495,317.7]});
pill(338,277.3,108,26.7,"#b6d4ec","PBMC-blood",12.8);

// d: synovium
umap({id:"umS",ox:0,oy:510,lo:.285,hi:1.02,stopsU:DS_STOPS_U,stopsB:DS_STOPS_BETA,polys:[[SYN_BODY,null],[SYN_SMALL,.5],[SYN_BUD,.42]],patches:DS_PATCHES.concat([[6,1.42,.12,.1,.75]]),sparse:SYN_SPARSE,
    barX:258.7,barTop:646,barH:61.3,legDom:[.4,1],legPx:[697.7,647.7],legTicks:LEG_SYN,legFmt:d3.format(".1f"),corner:[68.3,728,757.7,99.3]});
pill(106,553.7,101,27,"#b9e3b5","Synovium",12.8);
const dTitle = txt(svg,59,538,"T cells | ",12.8);
dTitle.append("tspan").attr("font-style","italic").text("HLA-DQA1");
dTitle.append("tspan").text(" (rs3104371)");

// d: blood, HLA-DQA1
umap({id:"umD",ox:309,oy:514,lo:-.16,hi:1.51,stopsU:DB_STOPS_U,stopsB:DB_STOPS_BETA,polys:[[BLOOD_BODY,null],[BLOOD_LOBE_A,.18],[BLOOD_LOBE_B,.14],[BLOOD_LOBE_C,.4,.35],[BLOOD_SMALL,.3]],patches:DB_PATCHES,sparse:BLOOD_SPARSE,
    barX:512.3,barTop:646,barH:61.3,legDom:[0,1.5],legPx:[701.3,646.7],legTicks:LEG_BLOOD,legFmt:d => d===0 ? "0" : d3.format(".1f")(d)});
pill(359,553.7,107.7,27,"#b6d4ec","PBMC-blood",12.8);

// callouts
const gAr = svg.append("g");
gAr.append("ellipse").attr("cx",412.7).attr("cy",350.3).attr("rx",27).attr("ry",31.7).attr("fill","none").attr("stroke","#c4122f").attr("stroke-width",1.5).attr("stroke-dasharray","4,2.6");
gAr.append("circle").attr("cx",428.3).attr("cy",473.3).attr("r",12.3).attr("fill","none").attr("stroke","#c4122f").attr("stroke-width",1.5).attr("stroke-dasharray","3.5,2.4");
gAr.append("line").attr("x1",385.7).attr("y1",350).attr("x2",246.7).attr("y2",366.7).attr("stroke","#c4122f").attr("stroke-width",1.3).attr("marker-end","url(#arrRed)");
gAr.append("line").attr("x1",440).attr("y1",470).attr("x2",583).attr("y2",421.7).attr("stroke","#c4122f").attr("stroke-width",1.3).attr("marker-end","url(#arrRed)");
[[106.7,731.7,107,778],[239.3,645,246,778],[348,651.7,420.7,778],[490,638,662.7,776.7]].forEach((l,i) => {
    const id = "fade"+i;
    const gr = defs.append("linearGradient").attr("id",id).attr("gradientUnits","userSpaceOnUse")
        .attr("x1",l[0]).attr("y1",l[1]).attr("x2",l[2]).attr("y2",l[3]);
    gr.append("stop").attr("offset",0).attr("stop-color","#777");
    gr.append("stop").attr("offset",.3).attr("stop-color","#111");
    gAr.append("line").attr("x1",l[0]).attr("y1",l[1]).attr("x2",l[2]).attr("y2",l[3]).attr("stroke",`url(#${id})`).attr("stroke-width",1.1).attr("marker-end","url(#arrBlack)");
});

// ================ f ================
function plusLabel(g, x, y, s, size) {
    const i = s.indexOf("+");
    const parts = i < 0 ? [s] : [s.slice(0,i),{t:"+",sup:1},s.slice(i+1)];
    rich(g,x,y,parts,size,"middle");
}
function fPanel(p) {
    const g = svg.append("g");
    g.append("rect").attr("x",662.3).attr("y",p.stripY).attr("width",192.7).attr("height",16).attr("fill","#fff").attr("stroke","#777").attr("stroke-width",1);
    txt(g,758.6,p.stripY+8,p.title,10.8,"middle");
    const x = d3.scaleLinear().domain(p.xdom).range(p.xpx);
    const y = d3.scaleLinear().domain(p.ydom).range(p.ypx);
    axisLine(g,662.3,p.stripY+16,662.3,p.bottom,"#888");
    axisLine(g,662.3,p.bottom,855,p.bottom,"#888");
    styleAxis(g.append("g").attr("transform","translate(662.3,0)").call(d3.axisLeft(y).tickValues(p.yticks).tickSize(2.5).tickPadding(3).tickFormat(d3.format(p.yfmt))),9.6);
    styleAxis(g.append("g").attr("transform",`translate(0,${p.bottom})`).call(d3.axisBottom(x).tickValues(p.xticks).tickSize(2.5).tickPadding(2).tickFormat(d3.format(".1f"))),9.6);
    p.names.forEach((n,i) => {
        const cx = x(p.xs[i]), cy = y(p.ys[i]);
        g.append("circle").attr("cx",cx).attr("cy",cy).attr("r",4).attr("fill",F_COLORS[n]);
    });
    p.names.forEach((n,i) => {
        const l = p.labels[i];
        plusLabel(g,l[0],l[1],n,7.7);
        if (l[2] !== null) g.append("line").attr("x1",l[2]).attr("y1",l[3]).attr("x2",x(p.xs[i])).attr("y2",y(p.ys[i])).attr("stroke","#111").attr("stroke-width",.8);
    });
}
fPanel({title:"Synovium",stripY:428.3,bottom:572.7,names:F_SYN_NAMES,xs:F_SYN_X,ys:F_SYN_Y,labels:F_SYN_LABELS,
    xdom:[.5,1.5],xpx:[722,854],ydom:[.55,.75],ypx:[564,453.3],xticks:[.5,1,1.5],yticks:[.55,.6,.65,.7,.75],yfmt:".2f"});
fPanel({title:"PBMC-blood",stripY:591,bottom:735,names:F_BLOOD_NAMES,xs:F_BLOOD_X,ys:F_BLOOD_Y,labels:F_BLOOD_LABELS,
    xdom:[.1,.5],xpx:[699.7,852.3],ydom:[.3,.9],ypx:[734,633.7],xticks:[.1,.2,.3,.4,.5],yticks:[.3,.5,.7,.9],yfmt:".1f"});
rich(svg,623,590,["Mean ",{t:"β",it:1,serif:1},{t:"total",sub:1}],10.2,"middle",-90);
txt(svg,758,757,"Mean normalized HLA-DQA1 expression",10.5,"middle");
</script>
</body>
</html>
